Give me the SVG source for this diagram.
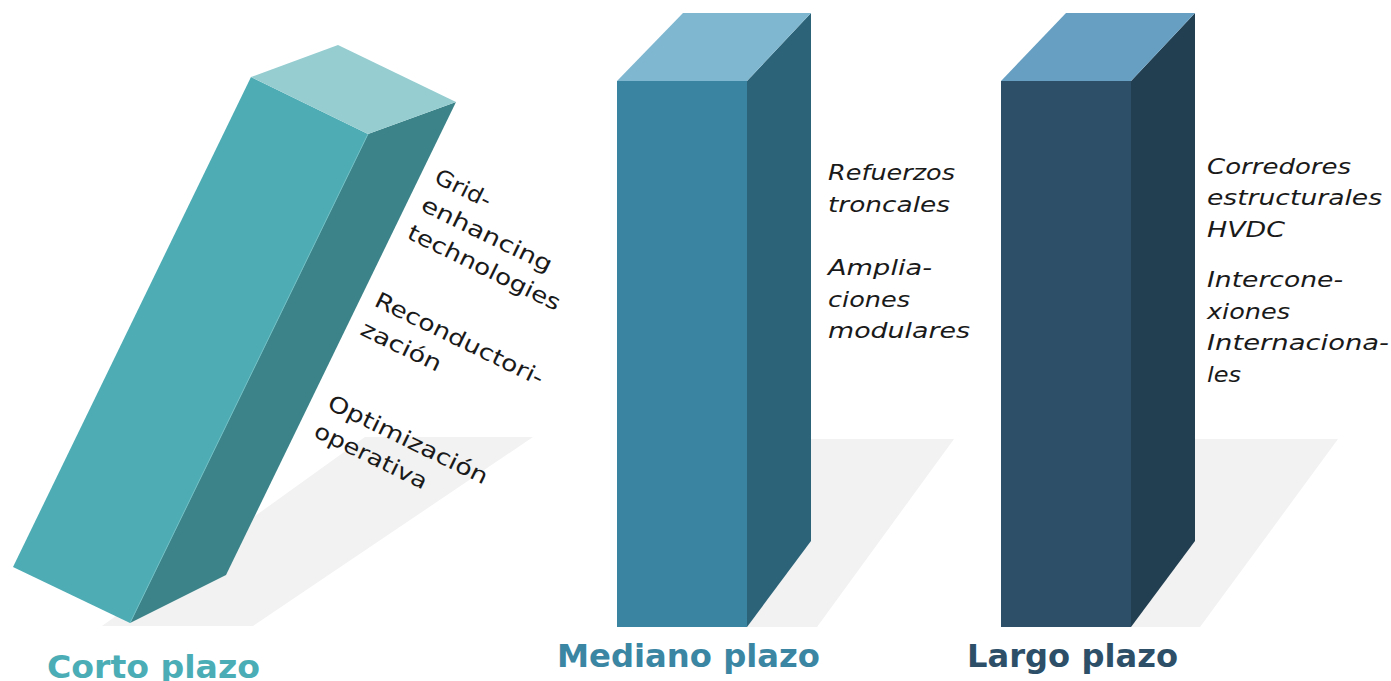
<svg xmlns="http://www.w3.org/2000/svg" width="1391" height="681" viewBox="0 0 1391 681">
<style>
.shadow{fill:#F2F2F2}
.item{font-family:"DejaVu Sans","Liberation Sans",sans-serif;font-size:22px;fill:#1a1a1a}
.it{font-style:italic}
.title{font-family:"DejaVu Sans","Liberation Sans",sans-serif;font-size:32px;font-weight:bold}
</style>
<rect width="1391" height="681" fill="#ffffff"/>
<g id="shadows">
<polygon class="shadow" points="102,626 253,626 533,437 365,437"/>
<polygon class="shadow" points="747,627 817,627 954,439 811,439"/>
<polygon class="shadow" points="1131,627 1200,627 1338,439 1195,439"/>
</g>
<g id="bar-corto">
<polygon points="251,77 368,134 130,623 13,567" fill="#4DACB4"/>
<polygon points="368,134 456,102 226,575 130,623" fill="#3B8389"/>
<polygon points="251,77 338,45 456,102 368,134" fill="#95CDD1"/>
<line x1="368" y1="134" x2="130" y2="623" stroke="#6FBFC4" stroke-width="1"/>
</g>
<g id="bar-mediano">
<rect x="617" y="81" width="130" height="546" fill="#3A84A1"/>
<polygon points="747,81 811,13 811,541 747,627" fill="#2C6379"/>
<polygon points="617,81 683,13 811,13 747,81" fill="#7FB7D0"/>
</g>
<g id="bar-largo">
<rect x="1001" y="81" width="130" height="546" fill="#2D5068"/>
<polygon points="1131,81 1195,13 1195,541 1131,627" fill="#223F52"/>
<polygon points="1001,81 1066,13 1195,13 1131,81" fill="#679FC2"/>
</g>
<g id="text-corto" class="item" transform="translate(433,182) rotate(26)">
<text x="0" y="0" textLength="60" lengthAdjust="spacingAndGlyphs">Grid-</text>
<text x="0" y="31" textLength="143" lengthAdjust="spacingAndGlyphs">enhancing</text>
<text x="0" y="62" textLength="167" lengthAdjust="spacingAndGlyphs">technologies</text>
<text x="0" y="137" textLength="185" lengthAdjust="spacingAndGlyphs">Reconductori-</text>
<text x="0" y="169" textLength="87" lengthAdjust="spacingAndGlyphs">zación</text>
<text x="3" y="250" textLength="175" lengthAdjust="spacingAndGlyphs">Optimización</text>
<text x="3" y="281" textLength="123" lengthAdjust="spacingAndGlyphs">operativa</text>
</g>
<g id="text-mediano" class="item it">
<text x="828" y="180" textLength="127" lengthAdjust="spacingAndGlyphs">Refuerzos</text>
<text x="828" y="212" textLength="122" lengthAdjust="spacingAndGlyphs">troncales</text>
<text x="828" y="275" textLength="104" lengthAdjust="spacingAndGlyphs">Amplia-</text>
<text x="828" y="307" textLength="82" lengthAdjust="spacingAndGlyphs">ciones</text>
<text x="828" y="338" textLength="142" lengthAdjust="spacingAndGlyphs">modulares</text>
</g>
<g id="text-largo" class="item it">
<text x="1207" y="174" textLength="144" lengthAdjust="spacingAndGlyphs">Corredores</text>
<text x="1207" y="205" textLength="175" lengthAdjust="spacingAndGlyphs">estructurales</text>
<text x="1207" y="237" textLength="78" lengthAdjust="spacingAndGlyphs">HVDC</text>
<text x="1207" y="287" textLength="136" lengthAdjust="spacingAndGlyphs">Intercone-</text>
<text x="1207" y="319" textLength="83" lengthAdjust="spacingAndGlyphs">xiones</text>
<text x="1207" y="350" textLength="182" lengthAdjust="spacingAndGlyphs">Internaciona-</text>
<text x="1207" y="382" textLength="34" lengthAdjust="spacingAndGlyphs">les</text>
</g>
<g id="labels">
<text class="title" x="47" y="678" fill="#4BADB5" textLength="213" lengthAdjust="spacingAndGlyphs">Corto plazo</text>
<text class="title" x="557" y="667" fill="#3A86A3" textLength="263" lengthAdjust="spacingAndGlyphs">Mediano plazo</text>
<text class="title" x="967" y="667" fill="#2D5068" textLength="211" lengthAdjust="spacingAndGlyphs">Largo plazo</text>
</g>
</svg>
